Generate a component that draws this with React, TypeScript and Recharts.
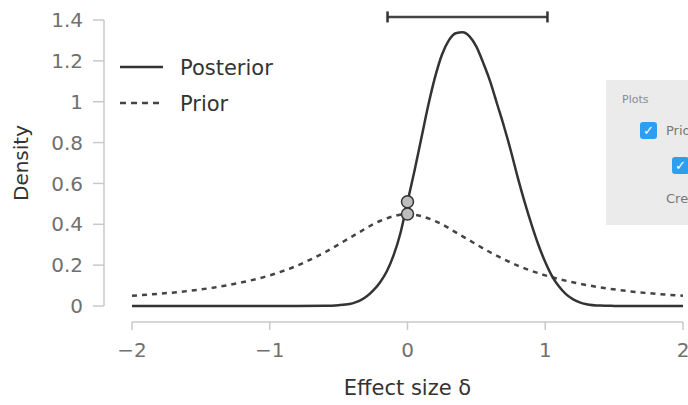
import {
  ComposedChart,
  Line,
  Scatter,
  XAxis,
  YAxis,
  ReferenceLine,
} from "recharts";

// prior (dashed)
const priorX = [-2, -1.8, -1.6, -1.4, -1.2, -1, -0.8, -0.6, -0.4, -0.2, 0, 0.2, 0.4, 0.6, 0.8, 1, 1.2, 1.4, 1.6, 1.8, 2];
const priorY = [0.05, 0.06, 0.073, 0.091, 0.116, 0.15, 0.198, 0.263, 0.341, 0.416, 0.45, 0.416, 0.341, 0.263, 0.198, 0.15, 0.116, 0.091, 0.073, 0.06, 0.05];

// posterior (solid)
const postX = [
  -2, -1.5, -1, -0.8, -0.6, -0.5, -0.45, -0.4, -0.35, -0.3, -0.25, -0.2, -0.15, -0.1, -0.05, 0,
  0.05, 0.1, 0.15, 0.2, 0.25, 0.3, 0.35, 0.4, 0.45, 0.5, 0.55, 0.6, 0.65, 0.7, 0.75, 0.8,
  0.85, 0.9, 0.95, 1, 1.05, 1.1, 1.15, 1.2, 1.25, 1.3, 1.4, 1.5, 1.6, 1.8, 2,
];
const postY = [
  0, 0, 0, 0, 0.001, 0.004, 0.007, 0.013, 0.025, 0.045, 0.075, 0.115, 0.17, 0.25, 0.36, 0.51,
  0.66, 0.82, 0.98, 1.12, 1.23, 1.3, 1.335, 1.34, 1.32, 1.27, 1.19, 1.1, 0.99, 0.88, 0.76, 0.63,
  0.51, 0.4, 0.3, 0.215, 0.145, 0.095, 0.058, 0.034, 0.018, 0.009, 0.002, 0.0005, 0, 0, 0,
];

// densities at delta = 0
const pointY = [0.51, 0.45];

// 95% credible interval
const ciLow = -0.145;
const ciHigh = 1.016;
const ciLevel = 1.415;

const xTicks = [-2, -1, 0, 1, 2];
const yTicks = [0, 0.2, 0.4, 0.6, 0.8, 1, 1.2, 1.4];

const priorData = priorX.map((x, i) => ({ x, y: priorY[i] }));
const postData = postX.map((x, i) => ({ x, y: postY[i] }));
const pointData = pointY.map((y) => ({ x: 0, y }));

const FONT = "'DejaVu Sans', sans-serif";
const AXIS = "#c9c9c9";
const TICK = "#707070";
const INK = "#333";

const fmtX = (v: number) => (v < 0 ? `\u2212${Math.abs(v)}` : `${v}`);

function Dot(props: any) {
  const { cx, cy } = props;
  return <circle cx={cx} cy={cy} r={6} fill="#bdbdbd" stroke="#333" strokeWidth={1.5} />;
}

function Checkbox({ left, top }: { left: number; top: number }) {
  return (
    <div
      style={{
        position: "absolute",
        left,
        top,
        width: 17,
        height: 17,
        borderRadius: 3,
        background: "#2d9ff0",
        color: "#fff",
        fontSize: 13,
        lineHeight: "17px",
        textAlign: "center",
      }}
    >
      ✓
    </div>
  );
}

export default function App() {
  return (
    <div
      style={{
        position: "relative",
        width: 688,
        height: 405,
        overflow: "hidden",
        background: "#fff",
        fontFamily: FONT,
      }}
    >
      <style>{`body{margin:0}`}</style>
      <ComposedChart width={688} height={405} margin={{ top: 20, right: 5, left: 0, bottom: 0 }}>
        {/* spacer axes keep the real axes detached from the plot */}
        <XAxis xAxisId="gap" type="number" domain={[0, 1]} height={16} tick={false} axisLine={false} tickLine={false} />
        <XAxis
          xAxisId="main"
          type="number"
          dataKey="x"
          domain={[-2, 2]}
          ticks={xTicks}
          tickFormatter={fmtX}
          height={83}
          stroke={AXIS}
          strokeWidth={1.5}
          tickSize={8}
          tickMargin={13}
          tick={{ fill: TICK, fontSize: 20, fontFamily: FONT }}
          label={{ value: "Effect size δ", position: "insideBottom", offset: 10, fill: INK, fontSize: 21, fontFamily: FONT }}
        />
        <YAxis yAxisId="gap" type="number" domain={[0, 1]} width={28} tick={false} axisLine={false} tickLine={false} />
        <YAxis
          yAxisId="main"
          type="number"
          domain={[0, 1.4]}
          ticks={yTicks}
          width={104}
          stroke={AXIS}
          strokeWidth={1.5}
          tickSize={11}
          tickMargin={10}
          tick={{ fill: TICK, fontSize: 20, fontFamily: FONT }}
          label={{
            value: "Density",
            angle: -90,
            position: "insideLeft",
            offset: 21,
            fill: INK,
            fontSize: 20,
            fontFamily: FONT,
            style: { textAnchor: "middle" },
          }}
        />
        <Line
          xAxisId="main"
          yAxisId="main"
          data={priorData}
          dataKey="y"
          type="monotone"
          stroke="#444"
          strokeWidth={2.5}
          strokeDasharray="5 5"
          dot={false}
          isAnimationActive={false}
        />
        <Line
          xAxisId="main"
          yAxisId="main"
          data={postData}
          dataKey="y"
          type="monotone"
          stroke={INK}
          strokeWidth={2.5}
          dot={false}
          isAnimationActive={false}
        />
        <Scatter
          xAxisId="main"
          yAxisId="main"
          data={pointData}
          dataKey="y"
          shape={<Dot />}
          isAnimationActive={false}
        />
        <ReferenceLine
          xAxisId="main"
          yAxisId="main"
          ifOverflow="visible"
          segment={[{ x: ciLow, y: ciLevel }, { x: ciHigh, y: ciLevel }]}
          stroke="#444"
          strokeWidth={2.5}
        />
        <ReferenceLine
          xAxisId="main"
          yAxisId="main"
          ifOverflow="visible"
          segment={[{ x: ciLow, y: ciLevel - 0.027 }, { x: ciLow, y: ciLevel + 0.027 }]}
          stroke="#333"
          strokeWidth={2.5}
        />
        <ReferenceLine
          xAxisId="main"
          yAxisId="main"
          ifOverflow="visible"
          segment={[{ x: ciHigh, y: ciLevel - 0.027 }, { x: ciHigh, y: ciLevel + 0.027 }]}
          stroke="#333"
          strokeWidth={2.5}
        />
      </ComposedChart>

      {/* legend */}
      <svg style={{ position: "absolute", left: 118, top: 55 }} width={50} height={60}>
        <line x1={2} x2={45} y1={12} y2={12} stroke={INK} strokeWidth={2.5} />
        <line x1={2} x2={45} y1={48} y2={48} stroke="#444" strokeWidth={2.5} strokeDasharray="6 5" />
      </svg>
      <div style={{ position: "absolute", left: 180, top: 55, fontSize: 21, color: INK, lineHeight: "26px" }}>Posterior</div>
      <div style={{ position: "absolute", left: 180, top: 91, fontSize: 21, color: INK, lineHeight: "26px" }}>Prior</div>

      {/* settings panel peeking in from the right */}
      <div style={{ position: "absolute", left: 606, top: 80, width: 120, height: 145, background: "#ebebeb" }} />
      <div style={{ position: "absolute", left: 622, top: 93, fontSize: 11, color: "#8a8a8a", whiteSpace: "nowrap" }}>Plots</div>
      <Checkbox left={640} top={122} />
      <div style={{ position: "absolute", left: 666, top: 122, fontSize: 13, color: "#777", whiteSpace: "nowrap", lineHeight: "17px" }}>
        Prior and posterior
      </div>
      <Checkbox left={672} top={157} />
      <div style={{ position: "absolute", left: 666, top: 190, fontSize: 13, color: "#777", whiteSpace: "nowrap", lineHeight: "17px" }}>
        Credible interval
      </div>
    </div>
  );
}
